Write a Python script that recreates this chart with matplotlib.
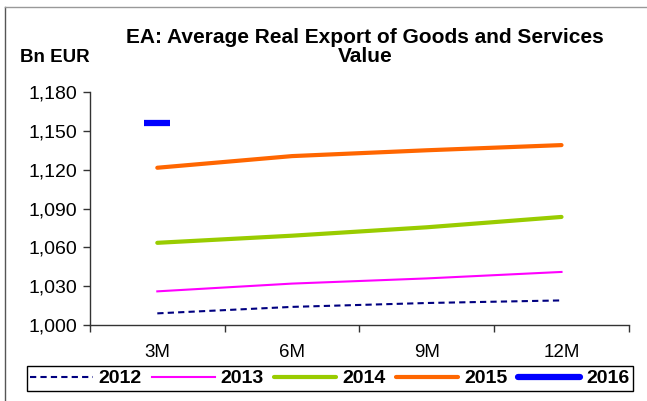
import matplotlib
matplotlib.use('Agg')
import matplotlib.pyplot as plt
from matplotlib.lines import Line2D
from matplotlib.ticker import FuncFormatter, FixedLocator
import numpy as np

plt.rcParams['font.family'] = ['Liberation Sans', 'DejaVu Sans']

#------------------------------DATA------------------------------
periods = ['3M', '6M', '9M', '12M']
v2012 = [1009, 1014, 1017, 1019]
v2013 = [1026, 1032, 1036, 1041]
v2014 = [1063.5, 1069, 1075.5, 1083.5]
v2015 = [1121.5, 1130.5, 1135, 1139]
v2016 = [1156]
years = ['2012', '2013', '2014', '2015', '2016']

#------------------------------FIGURE------------------------------
fig = plt.figure(figsize=(6.47, 4.01), dpi=100)
ax = fig.add_axes([0.139, 0.1895, 0.833, 0.581])

x = np.arange(len(periods))

h12, = ax.plot(x, v2012, color='#000080', lw=1.5, linestyle=(0, (3, 2)))
h13, = ax.plot(x, v2013, color='#FF00FF', lw=1.5)
h14, = ax.plot(x, v2014, color='#99CC00', lw=3, solid_capstyle='round')
h15, = ax.plot(x, v2015, color='#FF6600', lw=3, solid_capstyle='round')
# single point for 2016, drawn as a short thick dash
ax.plot(x[:len(v2016)], v2016, linestyle='none', marker='_', markersize=19,
        markeredgewidth=4.5, color='#0000FF')
h16 = Line2D([0], [0], color='#0000FF', lw=4.5, solid_capstyle='round')

#------------------------------AXES------------------------------
ax.set_xlim(-0.5, len(periods) - 0.5)
ax.set_ylim(1000, 1180)
ax.set_yticks(np.arange(1000, 1181, 30))
ax.yaxis.set_major_formatter(FuncFormatter(lambda v, p: f'{int(v):,}'))

ax.set_xticks(x)
ax.set_xticklabels(periods)
ax.xaxis.set_minor_locator(FixedLocator(np.arange(-0.5, len(periods), 1.0)))
ax.tick_params(axis='x', which='major', length=0, pad=14, labelsize=13.5)
ax.tick_params(axis='x', which='minor', length=5, width=1, color='#333333')
ax.tick_params(axis='y', length=5, width=1, color='#333333', labelsize=14, pad=4)

for s in ['top', 'right']:
    ax.spines[s].set_visible(False)
for s in ['left', 'bottom']:
    ax.spines[s].set_color('#333333')
    ax.spines[s].set_linewidth(1)

#------------------------------TEXT------------------------------
fig.text(0.564, 0.883, 'EA: Average Real Export of Goods and Services\nValue',
         ha='center', va='center', fontsize=15, fontweight='bold', linespacing=1.05)
fig.text(0.031, 0.857, 'Bn EUR', ha='left', va='center', fontsize=13.5, fontweight='bold')

#------------------------------LEGEND------------------------------
leg = fig.legend([h12, h13, h14, h15, h16], years, ncol=5, mode='expand',
                 bbox_to_anchor=(0.026, 0.022, 0.968, 0.068), loc='center',
                 prop={'weight': 'bold', 'size': 14}, handlelength=3.2,
                 handletextpad=0.3, columnspacing=0.6, borderpad=0.2,
                 fancybox=False, framealpha=1)
leg.get_frame().set_edgecolor('black')
leg.get_frame().set_linewidth(1)

# outer chart border (top and left visible in the crop)
fig.add_artist(Line2D([0.007, 0.007], [0, 0.983], transform=fig.transFigure,
                      color='#555555', lw=1))
fig.add_artist(Line2D([0.007, 1.0], [0.983, 0.983], transform=fig.transFigure,
                      color='#999999', lw=1))

fig.savefig('out.png', dpi=100)
